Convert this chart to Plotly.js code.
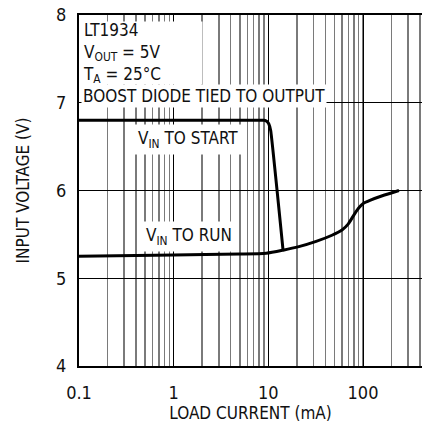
<!DOCTYPE html>
<html><head><meta charset="utf-8">
<script src="https://cdn.plot.ly/plotly-3.0.1.min.js"></script>
<style>html,body{margin:0;padding:0;background:#fff;}</style>
</head><body><div id="chart" style="width:422px;height:423px;"></div>
<script>
// Data
const startCurrent = [0.1, 1, 5, 9.0, 9.6, 10.1, 10.6, 14.3];
const startVoltage = [6.80, 6.80, 6.80, 6.80, 6.79, 6.76, 6.68, 5.32];
const runCurrent = [0.1, 1, 5, 9.5, 14.3, 21, 32, 47, 60, 70, 80, 90, 100, 120, 160, 240];
const runVoltage = [5.25, 5.265, 5.275, 5.285, 5.32, 5.36, 5.42, 5.49, 5.55, 5.62, 5.72, 5.80, 5.85, 5.89, 5.94, 6.00];
const xTickVals = [0.1, 1, 10, 100];
const xTickText = ['0.1', '1', '10', '100'];
const yTickVals = [4, 5, 6, 7, 8];

const FONT = '"DejaVu Sans Condensed", "Liberation Sans", sans-serif';
const W = 422, H = 423, L = 79, R = 0, T = 15, B = 57;
const pw = W - L - R, ph = H - T - B;
const px = x => (x - L) / pw;
const py = y => (H - B - y) / ph;

const traces = [
  {x: startCurrent, y: startVoltage, mode: 'lines', line: {color: '#000', width: 3, shape: 'spline', smoothing: 0.3}, hoverinfo: 'skip'},
  {x: runCurrent, y: runVoltage, mode: 'lines', line: {color: '#000', width: 3, shape: 'spline', smoothing: 0.6}, hoverinfo: 'skip'}
];

const ann = (text, x, y, extra) => Object.assign({
  text: text, xref: 'paper', yref: 'paper', x: px(x), y: py(y),
  xanchor: 'left', yanchor: 'middle', showarrow: false, align: 'left',
  bgcolor: '#fff', borderpad: 2, font: {family: FONT, size: 17, color: '#111'}
}, extra || {});

const layout = {
  width: W, height: H,
  margin: {l: L, r: R, t: T, b: B, pad: 0},
  paper_bgcolor: '#fff', plot_bgcolor: '#fff',
  showlegend: false,
  font: {family: FONT, size: 17, color: '#111'},
  xaxis: {
    type: 'log', range: [-1, Math.log10(420)],
    tickvals: xTickVals, ticktext: xTickText, ticks: '',
    ticklabelstandoff: 9,
    showgrid: true, gridcolor: '#000', gridwidth: 1,
    minor: {showgrid: true, gridcolor: '#7a7a7a', gridwidth: 1.6, dtick: 'D1', ticks: ''},
    showline: true, linecolor: '#000', linewidth: 2, mirror: true,
    zeroline: false,
    tickfont: {family: FONT, size: 18, color: '#111'},
    title: {text: 'LOAD CURRENT (mA)', font: {family: FONT, size: 17, color: '#111'}, standoff: 6}
  },
  yaxis: {
    range: [4, 8], tickvals: yTickVals, ticks: '',
    ticklabelstandoff: 7,
    showgrid: true, gridcolor: '#000', gridwidth: 1,
    showline: true, linecolor: '#000', linewidth: 2,
    zeroline: false,
    tickfont: {family: FONT, size: 18, color: '#111'},
    title: {text: 'INPUT VOLTAGE (V)', font: {family: FONT, size: 17, color: '#111'}, standoff: 22}
  },
  annotations: [
    ann('LT1934<br>V<sub>OUT</sub> = 5V<br>T<sub>A</sub> = 25°C', 81, 53, {width: 118, height: 60, valign: 'middle', borderpad: 1}),
    ann('BOOST DIODE TIED TO OUTPUT', 81, 96, {borderpad: 1}),
    ann('V<sub>IN</sub> TO START', 134, 139, {borderpad: 3}),
    ann('V<sub>IN</sub> TO RUN', 142, 236, {borderpad: 3})
  ]
};

Plotly.newPlot('chart', traces, layout, {displayModeBar: false, staticPlot: true});
</script></body></html>
